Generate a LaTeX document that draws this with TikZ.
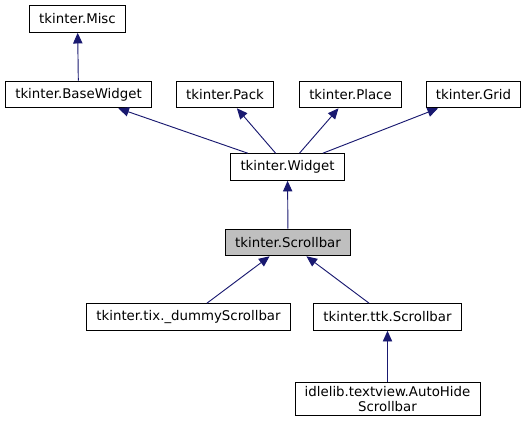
\documentclass[tikz,border=0pt]{standalone}
\usepackage{fontspec}
\setmainfont{DejaVu Sans}
\usepackage{tikz}
\usetikzlibrary{arrows.meta}
\definecolor{edgeblue}{HTML}{191970}
\definecolor{curgray}{HTML}{BFBFBF}

\begin{document}
\begin{tikzpicture}[x=0.75pt, y=-0.75pt,
    cls/.style={rectangle, draw=black, fill=#1, line width=0.7pt, minimum height=20pt,
                inner xsep=7.3pt, inner ysep=2pt, align=center, font=\fontsize{10}{11.5}\selectfont},
    cls/.default=white,
    inherit/.style={draw=edgeblue, line width=0.7pt, {Triangle[width=7pt, length=8pt]}-}
]
\useasboundingbox (0,0) rectangle (526,425);
\node[cls] (misc)   at (77.5,19)   {tkinter.Misc};
\node[cls] (basew)  at (78.5,94.5) {tkinter.BaseWidget};
\node[cls] (pack)   at (225,94.5)  {tkinter.Pack};
\node[cls] (place)  at (350.5,94.5){tkinter.Place};
\node[cls] (grid)   at (473.5,94.5){tkinter.Grid};
\node[cls] (widget) at (287.5,167) {tkinter.Widget};
\node[cls=curgray] (scroll) at (288,242.5) {tkinter.Scrollbar};
\node[cls] (dummy)  at (188.5,317) {tkinter.tix.\_dummyScrollbar};
\node[cls] (ttk)    at (387.5,317) {tkinter.ttk.Scrollbar};
\node[cls, inner ysep=2.5pt] (autoh) at (387.5,399) {idlelib.textview.AutoHide\\Scrollbar};

\draw[inherit] (misc) -- (basew);
\draw[inherit] (basew) -- (widget);
\draw[inherit] (pack) -- (widget);
\draw[inherit] (place) -- (widget);
\draw[inherit] (grid) -- (widget);
\draw[inherit] (widget) -- (scroll);
\draw[inherit] (scroll) -- (dummy);
\draw[inherit] (scroll) -- (ttk);
\draw[inherit] (ttk) -- (autoh);
\end{tikzpicture}
\end{document}
